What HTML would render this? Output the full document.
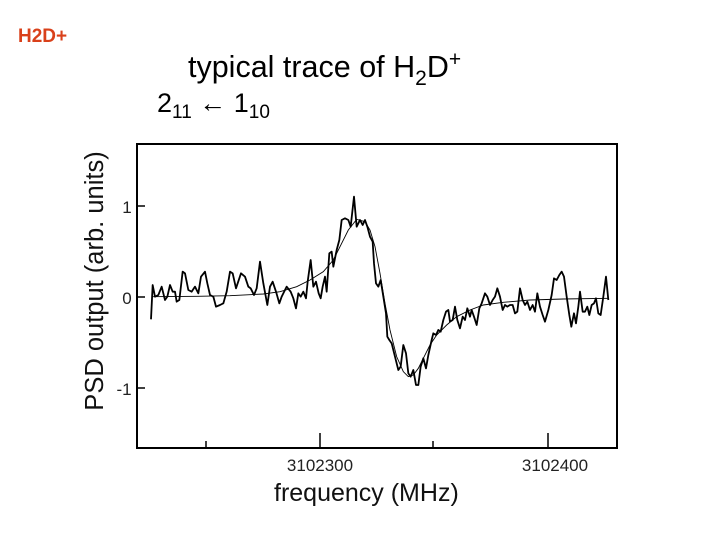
<!DOCTYPE html>
<html><head><meta charset="utf-8"><style>
html,body{margin:0;padding:0;background:#fff;}
svg{display:block;font-family:"Liberation Sans",Arial,sans-serif;}
</style></head><body>
<svg width="720" height="540" viewBox="0 0 720 540" xmlns="http://www.w3.org/2000/svg">
<text x="18" y="42" font-size="19" font-weight="bold" fill="#d9401a">H2D+</text>
<text x="188" y="77" font-size="30.5" fill="#000">typical trace of H<tspan font-size="21" dy="8">2</tspan><tspan dy="-8">D</tspan><tspan font-size="21" dy="-11">+</tspan></text>
<text x="157" y="112" font-size="27" fill="#000">2<tspan font-size="19" dy="6">11</tspan><tspan dy="-6"> ← 1</tspan><tspan font-size="19" dy="6">10</tspan></text>
<text transform="translate(103,281) rotate(-90)" text-anchor="middle" font-size="25.5" fill="#111">PSD output (arb. units)</text>
<text x="127" y="213" font-size="17" text-anchor="middle" fill="#222">1</text>
<text x="127" y="304" font-size="17" text-anchor="middle" fill="#222">0</text>
<text x="124" y="395" font-size="17" text-anchor="middle" fill="#222">-1</text>
<text x="320" y="471" font-size="17" text-anchor="middle" fill="#222">3102300</text>
<text x="555" y="471" font-size="17" text-anchor="middle" fill="#222">3102400</text>
<text x="274" y="501" font-size="25" fill="#111">frequency (MHz)</text>
<rect x="137" y="144" width="480" height="304" fill="none" stroke="#000" stroke-width="2"/>
<g stroke="#000" stroke-width="1.5">
<line x1="137" y1="206" x2="145" y2="206"/>
<line x1="137" y1="297" x2="145" y2="297"/>
<line x1="137" y1="388" x2="145" y2="388"/>
<line x1="206" y1="448" x2="206" y2="441"/>
<line x1="320" y1="448" x2="320" y2="433"/>
<line x1="433" y1="448" x2="433" y2="441"/>
<line x1="548" y1="448" x2="548" y2="433"/>
</g>
<g transform="translate(130,140) scale(0.33333)" fill="none" stroke="#000">
<polyline vector-effect="non-scaling-stroke" stroke-width="0.9" points="65,470 200,469 300,467 400,462 450,455 500,440 540,420 580,395 610,360 630,320 655,270 680,238 705,245 720,270 735,320 750,400 765,490 780,570 800,650 820,695 835,710 850,705 865,685 880,655 900,615 920,585 950,555 980,530 1020,510 1060,495 1120,487 1200,480 1300,477 1435,475"/>
<polyline vector-effect="non-scaling-stroke" stroke-width="1.8" stroke-linejoin="round" points="63,538 68,435 75,470 85,465 95,440 105,480 112,470 120,435 128,455 135,455 140,485 148,480 158,395 165,400 175,450 185,455 195,440 205,460 213,410 225,395 232,430 240,465 250,470 258,500 270,495 280,490 290,455 300,395 308,400 318,445 333,400 345,410 355,440 362,445 372,465 380,445 390,365 400,430 412,495 420,440 428,425 438,455 448,490 455,470 465,450 470,440 482,455 490,475 498,505 505,460 512,470 520,455 528,475 533,425 542,360 550,440 558,425 566,460 572,475 578,440 585,410 590,455 598,340 605,335 610,380 620,330 628,300 635,240 645,235 655,240 662,260 672,170 680,260 690,240 698,255 705,240 712,260 720,290 728,305 732,370 738,430 745,440 752,420 760,470 768,520 772,590 778,600 785,610 795,650 805,690 812,680 820,615 828,640 835,700 842,710 850,690 858,735 865,735 872,680 880,655 888,685 895,645 905,600 910,580 918,585 925,570 932,575 940,540 948,515 955,510 960,545 968,540 975,500 982,540 990,565 998,530 1005,540 1012,505 1020,530 1025,510 1032,530 1040,555 1048,505 1055,490 1065,460 1072,470 1080,495 1088,480 1095,470 1102,445 1110,470 1118,510 1125,495 1132,500 1140,495 1148,495 1155,520 1162,515 1170,445 1178,480 1185,495 1192,485 1200,510 1208,495 1215,515 1222,460 1230,500 1238,525 1245,545 1255,510 1265,465 1272,415 1280,420 1288,405 1295,395 1302,410 1310,470 1318,525 1324,560 1332,520 1338,550 1345,500 1350,455 1358,515 1365,515 1372,500 1378,525 1385,495 1392,490 1398,475 1405,520 1412,525 1420,470 1428,410 1435,480"/>
</g>
</svg>
</body></html>
